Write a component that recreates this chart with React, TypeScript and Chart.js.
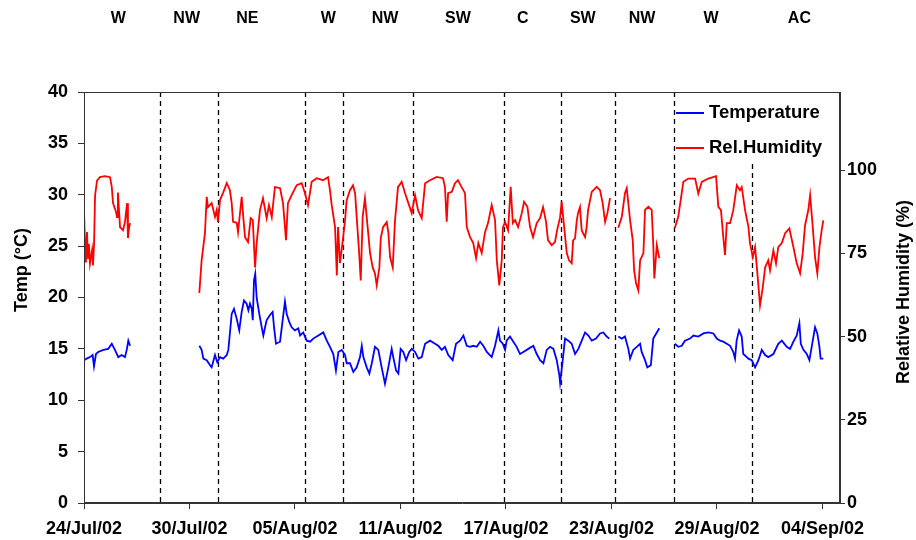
import React, { useEffect, useRef } from "react";
import { Chart, registerables } from "chart.js";

Chart.register(...registerables);

// ---- axis ticks ----
const xTickDays = [0, 6, 12, 18, 24, 30, 36, 42];
const xTickLabels = ["24/Jul/02", "30/Jul/02", "05/Aug/02", "11/Aug/02", "17/Aug/02", "23/Aug/02", "29/Aug/02", "04/Sep/02"];
const tempTicks = [0, 5, 10, 15, 20, 25, 30, 35, 40];
const rhTicks = [0, 25, 50, 75, 100];

// ---- air-mass sectors (days since 24/Jul/02) ----
const sectorBoundaries = [4.32, 7.64, 12.57, 14.75, 18.73, 23.91, 27.13, 30.23, 33.53, 37.97];
const sectorBoundaryTops = [40, 40, 40, 40, 40, 40, 40, 40, 40, 33];
const sectorNames = ["W", "NW", "NE", "W", "NW", "SW", "C", "SW", "NW", "W", "AC"];
const sectorLabelDays = [1.95, 5.84, 9.29, 13.9, 17.12, 21.27, 24.95, 28.37, 31.74, 35.66, 40.69];

// ---- temperature (°C); null = no data ----
const tempDays = [
  0.0, 0.15, 0.34, 0.49, 0.57, 0.68, 0.81, 1.1, 1.38, 1.58, 1.76, 1.95, 2.14, 2.33, 2.43, 2.52, 2.62,
  4.5,
  6.56, 6.69, 6.79, 6.98, 7.17, 7.26, 7.45, 7.58, 7.74, 7.92, 8.12, 8.21, 8.4, 8.53, 8.69, 8.83, 8.97, 9.1,
  9.25, 9.35, 9.44, 9.54, 9.6, 9.67, 9.74, 9.82, 9.97, 10.11, 10.2, 10.3, 10.39, 10.58, 10.73, 10.81, 10.92,
  11.15, 11.3, 11.43, 11.53, 11.68, 11.81, 12.0, 12.19, 12.29, 12.47, 12.67, 12.86, 13.04, 13.33, 13.61,
  13.81, 13.99, 14.18, 14.33, 14.47, 14.66, 14.85, 14.94, 15.13, 15.32, 15.51, 15.7, 15.8, 15.89, 16.08,
  16.23, 16.37, 16.55, 16.74, 16.93, 17.12, 17.31, 17.5, 17.59, 17.75, 17.88, 18.01, 18.16, 18.32, 18.5,
  18.64, 18.83, 19.02, 19.21, 19.4, 19.68, 19.97, 20.15, 20.35, 20.53, 20.72, 20.97, 21.16, 21.39, 21.58,
  21.77, 21.96, 22.14, 22.34, 22.53, 22.71, 22.91, 23.19, 23.38, 23.57, 23.66, 23.82, 23.95, 24.04, 24.23,
  24.42, 24.61, 24.8, 24.99, 25.27, 25.56, 25.75, 25.94, 26.13, 26.32, 26.51, 26.7, 26.89, 27.04, 27.08,
  27.23, 27.36, 27.55, 27.74, 27.93, 28.12, 28.31, 28.5, 28.69, 28.88, 29.12, 29.35, 29.54, 29.73, 29.88,
  30.1,
  30.39, 30.59, 30.77, 30.96, 31.06, 31.24, 31.44, 31.63, 31.72, 31.91, 32.04, 32.24, 32.38, 32.58, 32.72,
  33.2,
  33.61, 33.8, 34.0, 34.18, 34.47, 34.66, 34.94, 35.23, 35.51, 35.8, 35.99, 36.18, 36.36, 36.56, 36.75,
  36.93, 37.03, 37.12, 37.26, 37.41, 37.5, 37.7, 37.79, 37.98, 38.17, 38.36, 38.55, 38.74, 38.92, 39.21,
  39.49, 39.69, 39.97, 40.16, 40.35, 40.54, 40.69, 40.77, 40.92, 41.11, 41.26, 41.39, 41.58, 41.71, 41.83,
  41.9, 42.05,
];
const tempValues = [
  13.9, 14.05, 14.2, 14.4, 13.3, 14.5, 14.7, 14.9, 15.0, 15.5, 14.9, 14.2, 14.4, 14.2, 14.9, 15.8, 15.3,
  null,
  15.3, 14.9, 14.05, 13.9, 13.4, 13.2, 14.4, 13.7, 14.2, 14.05, 14.4, 14.9, 18.4, 18.9, 17.9, 16.8, 18.6, 19.7,
  19.4, 18.75, 19.4, 18.9, 17.8, 21.7, 22.3, 20.0, 18.4, 17.1, 16.3, 17.1, 17.8, 18.3, 18.6, 17.1, 15.5,
  15.7, 17.8, 19.6, 18.4, 17.6, 17.1, 16.8, 17.0, 16.3, 16.6, 15.8, 15.7, 16.0, 16.3, 16.6,
  15.8, 15.2, 14.5, 12.9, 14.7, 14.9, 14.4, 13.6, 13.6, 12.75, 13.2, 14.2, 15.3, 14.2, 13.2,
  12.6, 13.6, 15.2, 14.9, 13.2, 11.6, 13.2, 15.0, 14.2, 12.9, 12.6, 15.0, 14.7, 13.9, 14.7,
  15.0, 14.7, 14.05, 14.2, 15.5, 15.8, 15.5, 15.3, 14.9, 15.2, 14.4, 13.9, 15.5, 15.8, 16.3,
  15.3, 15.2, 15.3, 15.2, 15.7, 15.3, 14.7, 14.2, 15.3, 16.8, 15.8, 15.5, 14.9, 15.8, 16.2,
  15.7, 15.2, 14.5, 14.7, 15.0, 15.3, 14.5, 13.9, 13.6, 14.9, 15.2, 15.0, 13.9, 12.4, 11.7,
  13.9, 16.0, 15.8, 15.5, 14.5, 15.0, 15.8, 16.6, 16.3, 15.8, 16.0, 16.5, 16.6, 16.2, 16.0,
  null,
  16.2, 16.0, 16.2, 15.0, 14.05, 14.9, 15.2, 15.5, 14.7, 13.9, 13.2, 13.4, 16.0, 16.6, 17.0,
  null,
  15.5, 15.2, 15.3, 15.8, 16.0, 16.3, 16.2, 16.5, 16.6, 16.5, 16.0, 15.8, 15.7, 15.5, 15.3,
  14.7, 14.05, 15.8, 16.8, 16.2, 14.5, 14.2, 14.05, 13.9, 13.2, 13.9, 14.9, 14.4, 14.2, 14.5,
  15.5, 15.8, 15.2, 15.0, 15.7, 16.3, 17.5, 15.5, 14.9, 14.5, 13.9, 15.2, 17.1, 16.5, 15.2,
  14.05, 14.05,
];

// ---- relative humidity (%); null = no data ----
const rhDays = [
  0.0, 0.06, 0.11, 0.17, 0.23, 0.28, 0.34, 0.46, 0.51, 0.57, 0.63, 0.74, 0.91, 1.19, 1.48, 1.58, 1.65,
  1.82, 1.88, 1.93, 2.05, 2.22, 2.33, 2.45, 2.5, 2.56, 2.62,
  4.5,
  6.56, 6.69, 6.88, 6.98, 7.05, 7.26, 7.45, 7.55, 7.62, 7.74, 7.91, 8.12, 8.3, 8.4, 8.48, 8.69, 8.76, 8.97,
  9.06, 9.16, 9.33, 9.48, 9.6, 9.73, 9.82, 10.01, 10.18, 10.39, 10.52, 10.68, 10.86, 11.15, 11.32, 11.49,
  11.6, 11.81, 12.1, 12.38, 12.57, 12.74, 12.95, 13.24, 13.59, 13.88, 13.99, 14.09, 14.28, 14.38, 14.45,
  14.56, 14.72, 14.85, 14.94, 15.13, 15.3, 15.42, 15.51, 15.64, 15.74, 15.85, 15.98, 16.08, 16.27, 16.42,
  16.55, 16.65, 16.8, 16.88, 17.01, 17.22, 17.31, 17.41, 17.56, 17.69, 17.86, 18.07, 18.26, 18.45, 18.64,
  18.83, 19.0, 19.21, 19.4, 19.68, 20.06, 20.42, 20.53, 20.63, 20.71, 20.92, 21.1, 21.27, 21.48, 21.67,
  21.77, 21.96, 22.14, 22.3, 22.43, 22.62, 22.81, 22.98, 23.19, 23.38, 23.48, 23.62, 23.76, 23.83, 23.95,
  24.12, 24.27, 24.39, 24.52, 24.69, 24.9, 25.03, 25.22, 25.37, 25.54, 25.75, 25.94, 26.11, 26.28, 26.39,
  26.6, 26.79, 26.91, 27.08, 27.17, 27.27, 27.46, 27.59, 27.74, 27.82, 27.93, 28.03, 28.1, 28.21, 28.31,
  28.5, 28.59, 28.67, 28.88, 29.16, 29.35, 29.5, 29.64, 29.77, 29.92,
  30.1,
  30.39, 30.59, 30.77, 30.87, 31.06, 31.21, 31.29, 31.4, 31.53, 31.63, 31.82, 31.91, 32.1, 32.29, 32.38,
  32.44, 32.58, 32.72,
  33.2,
  33.61, 33.8, 34.09, 34.37, 34.76, 34.94, 35.14, 35.51, 35.95, 36.08, 36.23, 36.36, 36.46, 36.56, 36.75,
  36.93, 37.13, 37.31, 37.41, 37.6, 37.79, 37.88, 38.04, 38.17, 38.3, 38.45, 38.61, 38.74, 38.92, 39.02,
  39.21, 39.36, 39.49, 39.69, 39.88, 40.12, 40.35, 40.54, 40.73, 40.88, 41.01, 41.2, 41.3, 41.45, 41.58,
  41.71, 41.83, 41.96, 42.05,
];
const rhValues = [
  88.0, 77.4, 72.3, 81.4, 73.6, 77.8, 72.0, 76.0, 71.4, 77.5, 92.4, 96.9, 97.9, 98.2, 97.9, 95.0, 90.1,
  87.5, 85.9, 93.3, 82.9, 82.0, 84.4, 90.1, 79.6, 82.6, 84.1,
  null,
  63.1, 72.9, 81.1, 92.0, 88.9, 90.1, 86.0, 88.1, 84.5, 91.1, 93.2, 96.1, 94.0, 90.1, 84.5, 84.2, 81.4, 92.0,
  85.9, 79.9, 78.4, 85.6, 85.0, 70.8, 78.1, 88.0, 91.6, 85.6, 89.5, 85.9, 94.9, 94.6, 90.1, 79.0,
  90.1, 92.5, 95.5, 96.1, 93.1, 89.5, 96.5, 97.6, 97.0, 97.9, 94.0, 89.5, 82.9, 68.4, 82.9,
  72.1, 78.9, 85.0, 91.0, 94.0, 95.5, 93.1, 85.9, 76.0, 66.9, 85.9, 91.6, 85.9, 75.1, 70.8,
  69.0, 65.4, 70.8, 79.6, 82.9, 84.4, 81.3, 73.9, 70.8, 84.9, 94.9, 96.5, 93.1, 90.1, 87.1,
  92.5, 88.0, 85.6, 96.1, 97.0, 98.0, 97.6, 94.9, 84.5, 93.1, 93.5, 96.1, 97.0, 94.9, 93.1,
  82.9, 79.9, 78.1, 73.6, 78.1, 75.1, 81.4, 84.1, 89.5, 85.0, 72.9, 65.4, 72.9, 82.9, 84.4,
  82.0, 95.0, 84.1, 85.0, 82.9, 87.1, 90.5, 89.0, 82.9, 79.9, 84.1, 85.6, 88.9, 84.5, 79.0,
  77.5, 78.4, 82.0, 85.9, 90.5, 85.0, 75.1, 72.9, 72.0, 78.9, 79.5, 85.0, 87.1, 88.9, 81.9,
  79.9, 82.9, 88.0, 93.5, 95.0, 94.0, 90.1, 84.5, 87.1, 91.6,
  null,
  82.7, 86.0, 93.1, 94.6, 85.0, 79.0, 69.9, 66.0, 63.9, 72.9, 75.1, 88.1, 89.0, 88.1, 77.5,
  67.5, 77.5, 73.6,
  null,
  82.7, 86.0, 96.5, 97.5, 97.5, 93.0, 96.5, 97.5, 98.2, 89.0, 88.0, 80.0, 74.5, 84.1, 84.1,
  88.0, 95.5, 94.0, 94.9, 88.0, 83.0, 78.1, 73.9, 76.9, 69.0, 59.4, 64.9, 70.8, 72.9, 69.9,
  75.9, 72.0, 76.9, 78.1, 81.1, 82.5, 76.9, 72.0, 69.0, 75.1, 83.4, 88.1, 92.5, 82.9, 73.9,
  69.0, 76.9, 82.0, 84.9,
];

const FONT = '"Liberation Sans", Arial, sans-serif';

const overlayPlugin = {
  id: "overlay",
  beforeDatasetsDraw(chart: any) {
    const { ctx, chartArea, scales } = chart;
    const x = scales.x;
    const y = scales.y;
    ctx.save();
    ctx.strokeStyle = "#000";
    ctx.lineWidth = 1.3;
    ctx.setLineDash([5, 4]);
    sectorBoundaries.forEach((d, i) => {
      const px = Math.round(x.getPixelForValue(d)) + 0.5;
      ctx.beginPath();
      ctx.moveTo(px, y.getPixelForValue(sectorBoundaryTops[i]));
      ctx.lineTo(px, chartArea.bottom);
      ctx.stroke();
    });
    ctx.restore();
  },
  afterDraw(chart: any) {
    const { ctx, chartArea, scales } = chart;
    const x = scales.x;
    ctx.save();
    // plot frame
    ctx.strokeStyle = "#333";
    ctx.lineWidth = 1;
    ctx.strokeRect(chartArea.left + 0.5, chartArea.top + 0.5, chartArea.right - chartArea.left - 1, chartArea.bottom - chartArea.top - 1);

    // sector labels
    ctx.fillStyle = "#000";
    ctx.font = `bold 16px ${FONT}`;
    ctx.textAlign = "center";
    ctx.textBaseline = "middle";
    sectorNames.forEach((n, i) => {
      ctx.fillText(n, x.getPixelForValue(sectorLabelDays[i]), 19);
    });

    // legend
    const items = [
      { label: "Temperature", color: "#0000ff", y: chartArea.top + 21 },
      { label: "Rel.Humidity", color: "#ff0000", y: chartArea.top + 56 },
    ];
    ctx.font = `bold 18.5px ${FONT}`;
    ctx.textAlign = "left";
    items.forEach((it) => {
      ctx.strokeStyle = it.color;
      ctx.lineWidth = 2;
      ctx.beginPath();
      ctx.moveTo(676, it.y);
      ctx.lineTo(704, it.y);
      ctx.stroke();
      ctx.fillStyle = "#000";
      ctx.fillText(it.label, 709, it.y);
    });

    // axis titles
    ctx.font = `bold 18px ${FONT}`;
    ctx.textAlign = "center";
    ctx.textBaseline = "middle";
    ctx.save();
    ctx.translate(22, 270);
    ctx.rotate(-Math.PI / 2);
    ctx.fillText("Temp (°C)", 0, 0);
    ctx.restore();
    ctx.save();
    ctx.translate(904, 292);
    ctx.rotate(-Math.PI / 2);
    ctx.fillText("Relative Humidity (%)", 0, 0);
    ctx.restore();
    ctx.restore();
  },
};

export default function App() {
  const ref = useRef<HTMLCanvasElement | null>(null);
  useEffect(() => {
    if (!ref.current) return;
    const tickFont = { family: FONT, size: 18, weight: "bold" as const };
    const chart = new Chart(ref.current, {
      type: "line",
      data: {
        datasets: [
          {
            label: "Temperature",
            data: tempDays.map((d, i) => ({ x: d, y: tempValues[i] })),
            borderColor: "#0000ff",
            borderWidth: 1.8,
            pointRadius: 0,
            tension: 0,
            spanGaps: false,
            yAxisID: "y",
          },
          {
            label: "Rel.Humidity",
            data: rhDays.map((d, i) => ({ x: d, y: rhValues[i] })),
            borderColor: "#ff0000",
            borderWidth: 1.8,
            pointRadius: 0,
            tension: 0,
            spanGaps: false,
            yAxisID: "y1",
          },
        ] as any,
      },
      options: {
        animation: false,
        responsive: false,
        layout: { padding: { top: 92, left: 0, right: 0, bottom: 0 } },
        plugins: { legend: { display: false }, tooltip: { enabled: false } },
        scales: {
          x: {
            type: "linear",
            position: "bottom",
            min: 0,
            max: 43,
            afterBuildTicks: (s: any) => {
              s.ticks = xTickDays.map((v) => ({ value: v }));
            },
            afterFit: (s: any) => {
              s.height = 37;
            },
            ticks: {
              autoSkip: false,
              maxRotation: 0,
              color: "#000",
              font: tickFont,
              padding: 9,
              callback: (v: any) => xTickLabels[xTickDays.indexOf(Number(v))] ?? "",
            },
            grid: { drawOnChartArea: false, drawTicks: true, tickLength: 6, color: "#333" },
            border: { display: true, color: "#333" },
          },
          y: {
            type: "linear",
            position: "left",
            min: 0,
            max: 40,
            afterBuildTicks: (s: any) => {
              s.ticks = tempTicks.map((v) => ({ value: v }));
            },
            afterFit: (s: any) => {
              s.width = 84;
            },
            ticks: { color: "#000", font: tickFont, padding: 10 },
            grid: { drawOnChartArea: false, drawTicks: true, tickLength: 6, color: "#333" },
            border: { display: true, color: "#333" },
          },
          y1: {
            type: "linear",
            position: "right",
            min: 0,
            max: 123.5,
            afterBuildTicks: (s: any) => {
              s.ticks = rhTicks.map((v) => ({ value: v }));
            },
            afterFit: (s: any) => {
              s.width = 76;
            },
            ticks: { color: "#000", font: tickFont, padding: 2 },
            grid: { drawOnChartArea: false, drawTicks: true, tickLength: 5, color: "#333" },
            border: { display: true, color: "#333" },
          },
        },
      } as any,
      plugins: [overlayPlugin],
    });
    return () => chart.destroy();
  }, []);
  return (
    <div style={{ position: "fixed", left: 0, top: 0, width: 916, height: 540, background: "#fff" }}>
      <canvas ref={ref} width={916} height={540} style={{ display: "block" }} />
    </div>
  );
}
